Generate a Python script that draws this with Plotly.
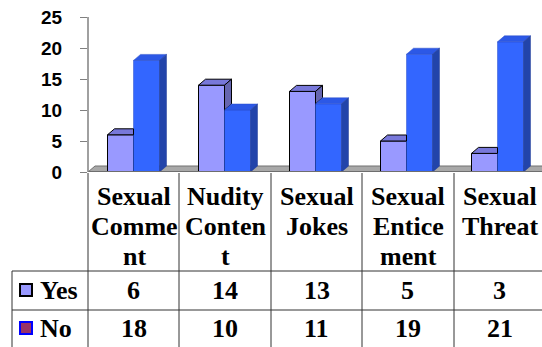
import plotly.graph_objects as go

# ---- data ----
categories = ["Sexual Comment", "Nudity Content", "Sexual Jokes", "Sexual Enticement", "Sexual Threat"]
header_lines = [["Sexual", "Comme", "nt"], ["Nudity", "Conten", "t"], ["Sexual", "Jokes"],
                ["Sexual", "Entice", "ment"], ["Sexual", "Threat"]]
series_names = ["Yes", "No"]
yes_values = [6, 14, 13, 5, 3]
no_values = [18, 10, 11, 19, 21]
y_ticks = [0, 5, 10, 15, 20, 25]

# ---- geometry / style ----
W_FIG, H_FIG = 542, 347
ML, MT, MB = 88, 0, 175
PLOT_W = W_FIG - ML
PLOT_H = H_FIG - MT - MB
PX_PER_CAT = 91.0
PX_PER_UNIT = 6.2
X0 = -0.5
X1 = X0 + PLOT_W / PX_PER_CAT
Y1 = PLOT_H / PX_PER_UNIT

BAR_W = 26 / PX_PER_CAT       # width of one bar in category units
DX = 7 / PX_PER_CAT           # 3-D depth, horizontal
DY = 6 / PX_PER_UNIT          # 3-D depth, vertical

YES_FRONT, YES_TOP, YES_SIDE = "#9999FF", "#7878DA", "#6666B0"
NO_FRONT, NO_TOP, NO_SIDE = "#3366FF", "#2C58E6", "#2244AA"
GRID_LINE = "#333333"
SERIF = "Liberation Serif"


def px_x(px):
    return (px - ML) / PLOT_W


def px_y(py):
    return (MT + PLOT_H - py) / PLOT_H


xs = list(range(len(categories)))

fig = go.Figure()

# front faces of the bars
fig.add_trace(go.Bar(x=xs, y=yes_values, width=BAR_W, offset=-BAR_W, name=series_names[0],
                     marker=dict(color=YES_FRONT, line=dict(color="black", width=1))))
fig.add_trace(go.Bar(x=xs, y=no_values, width=BAR_W, offset=0, name=series_names[1],
                     marker=dict(color=NO_FRONT, line=dict(color="#2A4FC8", width=0.5))))


def poly_trace(polys, fill, line_color, line_width):
    px, py = [], []
    for p in polys:
        for (a, b) in p + [p[0]]:
            px.append(a)
            py.append(b)
        px.append(None)
        py.append(None)
    return go.Scatter(x=px, y=py, mode="lines", fill="toself", fillcolor=fill,
                      line=dict(color=line_color, width=line_width), hoverinfo="skip",
                      showlegend=False)


yes_tops, yes_sides, no_tops, no_sides = [], [], [], []
for i, (h_y, h_n) in enumerate(zip(yes_values, no_values)):
    a0, a1, a2 = i - BAR_W, i, i + BAR_W
    # top of the "Yes" bar (its right corner sits behind the "No" bar when lower)
    if h_y + DY <= h_n:
        yes_tops.append([(a0, h_y), (a1, h_y), (a1, h_y + DY), (a0 + DX, h_y + DY)])
    else:
        yes_tops.append([(a0, h_y), (a1, h_y), (a1 + DX, h_y + DY), (a0 + DX, h_y + DY)])
    # visible part of the "Yes" side face above the neighbouring "No" bar
    if h_y > h_n:
        yes_sides.append([(a1, h_n), (a1, h_y), (a1 + DX, h_y + DY), (a1 + DX, h_n + DY)])
    no_tops.append([(a1, h_n), (a2, h_n), (a2 + DX, h_n + DY), (a1 + DX, h_n + DY)])
    no_sides.append([(a2, 0), (a2, h_n), (a2 + DX, h_n + DY), (a2 + DX, DY)])

fig.add_trace(poly_trace(yes_tops, YES_TOP, "black", 1))
if yes_sides:
    fig.add_trace(poly_trace(yes_sides, YES_SIDE, "black", 1))
fig.add_trace(poly_trace(no_tops, NO_TOP, "#2A4FC8", 0.5))
fig.add_trace(poly_trace(no_sides, NO_SIDE, "#1E3A99", 0.5))

shapes = []
# floor
shapes.append(dict(type="path", xref="x", yref="y", layer="below",
                   path=f"M {X0},0 L {X1 + 1},0 L {X1 + 1},{DY} L {X0 + DX},{DY} Z",
                   fillcolor="#A8A8A8", line=dict(color="#707070", width=1)))
shapes.append(dict(type="line", xref="x", yref="y", x0=X0, x1=X1 + 1, y0=0, y1=0,
                   line=dict(color="#6E6E6E", width=2)))
# value axis line
shapes.append(dict(type="line", xref="paper", yref="y", x0=0, x1=0, y0=0, y1=max(y_ticks),
                   line=dict(color="#808080", width=1.5)))

# data table grid
col_edges = [88, 179, 271, 362, 454]
for e in col_edges:
    shapes.append(dict(type="line", xref="paper", yref="paper", x0=px_x(e), x1=px_x(e),
                       y0=px_y(173), y1=px_y(H_FIG), line=dict(color=GRID_LINE, width=1)))
shapes.append(dict(type="line", xref="paper", yref="paper", x0=px_x(12), x1=px_x(12),
                   y0=px_y(271), y1=px_y(H_FIG), line=dict(color=GRID_LINE, width=1)))
for r in [271, 310]:
    shapes.append(dict(type="line", xref="paper", yref="paper", x0=px_x(12), x1=px_x(W_FIG),
                       y0=px_y(r), y1=px_y(r), line=dict(color=GRID_LINE, width=1)))

# legend keys in the table
key_styles = [(YES_FRONT, "black"), ("#993366", "#0000FF")]
row_centers = [290, 328]
for (fill, edge), cy in zip(key_styles, row_centers):
    shapes.append(dict(type="rect", xref="paper", yref="paper",
                       x0=px_x(20), x1=px_x(32), y0=px_y(cy - 6), y1=px_y(cy + 6),
                       fillcolor=fill, line=dict(color=edge, width=2)))

annotations = []
tfont = dict(family=SERIF, size=26, color="black", weight="bold")
# category header lines
line_centers = [196, 226, 256]
for i, lines in enumerate(header_lines):
    cx = (col_edges[i] + col_edges[i] + PX_PER_CAT) / 2 + 0.5
    for j, txt in enumerate(lines):
        annotations.append(dict(text=txt, xref="paper", yref="paper", x=px_x(cx),
                                y=px_y(line_centers[j]), xanchor="center", yanchor="middle",
                                showarrow=False, font=tfont))
# row labels and values
for name, vals, cy in zip(series_names, [yes_values, no_values], row_centers):
    annotations.append(dict(text=name, xref="paper", yref="paper", x=px_x(38),
                            y=px_y(cy), xanchor="left", yanchor="middle",
                            showarrow=False, font=tfont))
    for i, v in enumerate(vals):
        cx = col_edges[i] + PX_PER_CAT / 2
        annotations.append(dict(text=str(v), xref="paper", yref="paper", x=px_x(cx),
                                y=px_y(cy), xanchor="center", yanchor="middle",
                                showarrow=False, font=tfont))

fig.update_layout(
    width=W_FIG, height=H_FIG,
    margin=dict(l=ML, r=0, t=MT, b=MB, pad=0),
    paper_bgcolor="white", plot_bgcolor="white",
    barmode="overlay", showlegend=False,
    shapes=shapes, annotations=annotations,
    xaxis=dict(range=[X0, X1], visible=False, fixedrange=True),
    yaxis=dict(range=[0, Y1], tickvals=y_ticks, ticks="outside", ticklen=7,
               tickcolor="#808080", tickwidth=1, showgrid=False, zeroline=False,
               showline=False, automargin=False, ticklabelstandoff=14,
               tickfont=dict(family="Liberation Sans", size=19, color="black", weight="bold")),
)

fig.write_html("out.html")
